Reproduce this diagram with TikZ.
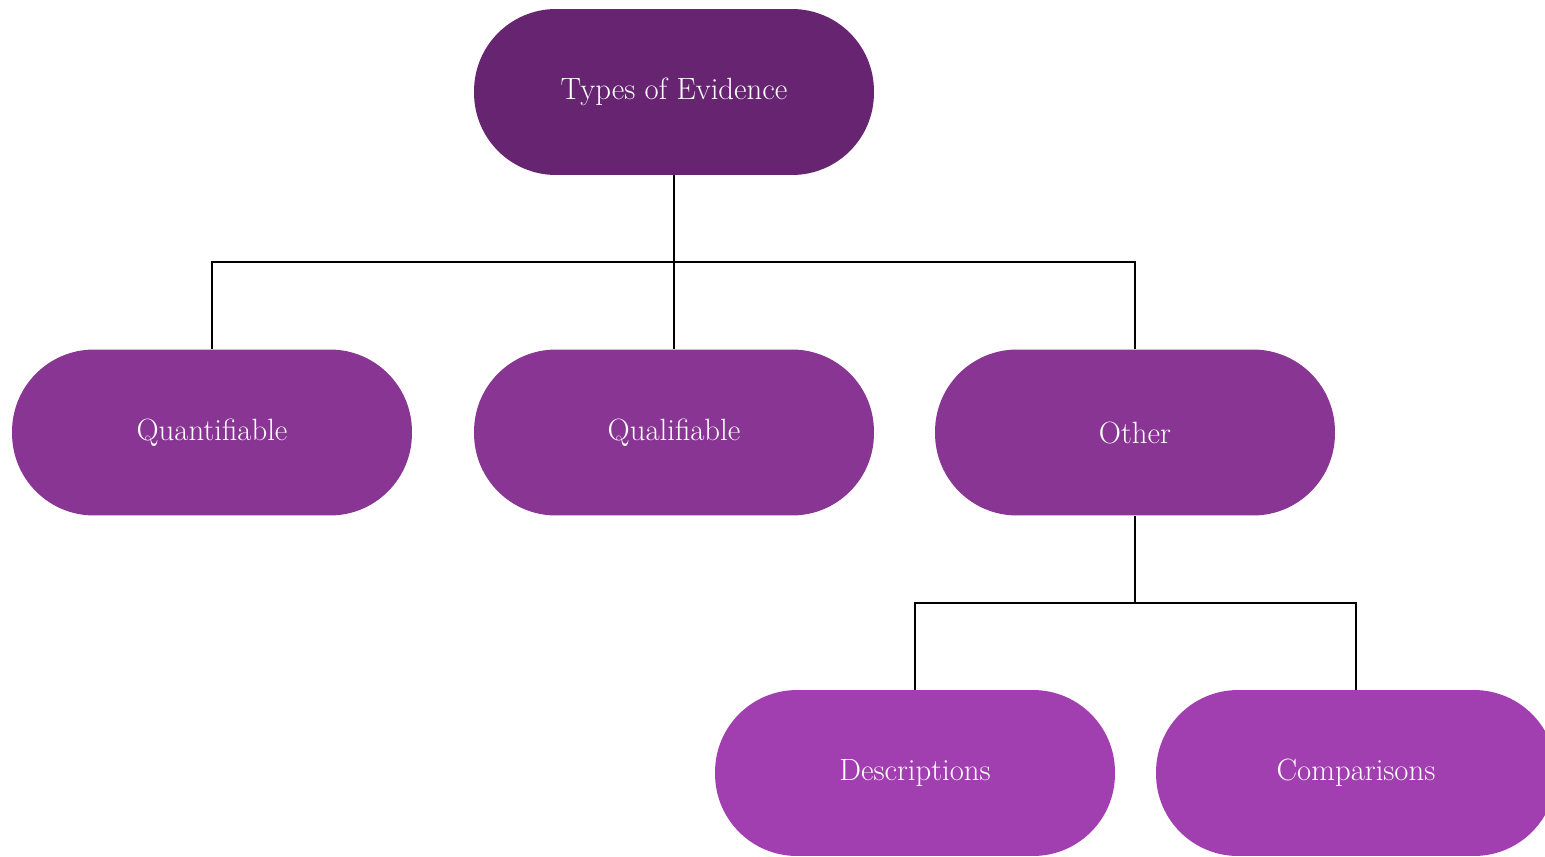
\documentclass[tikz,border=0pt]{standalone}
\usetikzlibrary{positioning}
\definecolor{topc}{HTML}{662471}
\definecolor{midc}{HTML}{883594}
\definecolor{lowc}{HTML}{A23FB0}
\begin{document}
\begin{tikzpicture}[x=0.02cm,y=-0.02cm,
  pill/.style={rectangle, rounded corners=1.64cm, minimum width=8cm, minimum height=3.32cm,
    inner sep=0pt, text=white, font=\fontsize{17.5}{21}\selectfont},
  conn/.style={draw=black, line width=1.1pt}]
\useasboundingbox (0,0) rectangle (1545,856);
\clip (0,0) rectangle (1545,856);
\node[pill, fill=topc] (top) at (674,92) {Types of Evidence};
\node[pill, fill=midc] (quant) at (212,432.5) {Quantifiable};
\node[pill, fill=midc] (qual) at (674,432.5) {Qualifiable};
\node[pill, fill=midc] (other) at (1135,432.5) {Other};
\node[pill, fill=lowc] (desc) at (915,773) {Descriptions};
\node[pill, fill=lowc] (comp) at (1356,773) {Comparisons};
\coordinate (j1) at (674,262);
\coordinate (j2) at (1135,603);
\draw[conn] (top.south) -- (j1);
\draw[conn] (quant.north) |- (j1) -| (other.north);
\draw[conn] (j1) -- (qual.north);
\draw[conn] (other.south) -- (j2);
\draw[conn] (desc.north) |- (j2) -| (comp.north);
\end{tikzpicture}
\end{document}
